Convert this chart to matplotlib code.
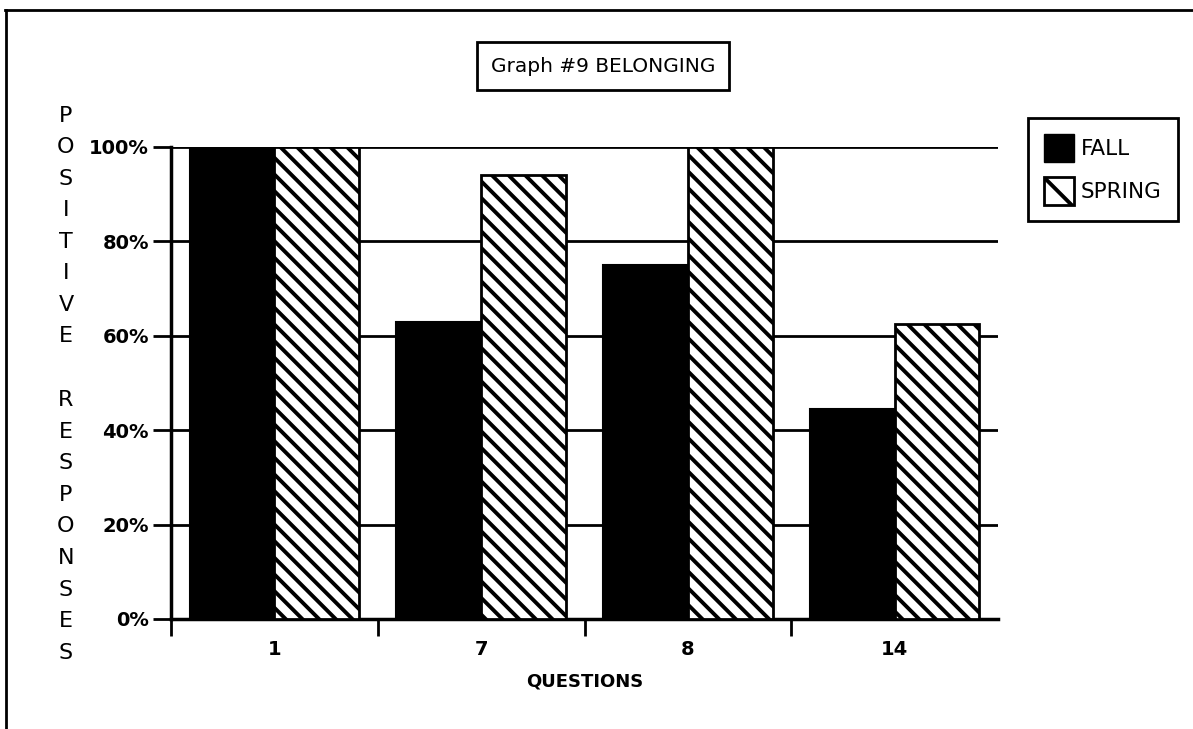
import matplotlib
matplotlib.use("Agg")
import matplotlib.pyplot as plt
import numpy as np
from matplotlib.lines import Line2D
from matplotlib.patches import Patch

questions = ["1", "7", "8", "14"]
fall = [100, 63, 75, 44.5]
spring = [100, 94, 100, 62.5]
y_ticks = [0, 20, 40, 60, 80, 100]
y_tick_labels = ["0%", "20%", "40%", "60%", "80%", "100%"]
y_label_words = ["POSITIVE", "RESPONSES"]

plt.rcParams["hatch.linewidth"] = 2.8
plt.rcParams["font.family"] = "DejaVu Sans"

W, H = 1193, 729
fig = plt.figure(figsize=(W / 100, H / 100), dpi=100)
ax = fig.add_axes([171 / W, 1 - 619 / H, (998 - 171) / W, (619 - 147) / H])

x = np.arange(len(questions))
bw = 0.41
ax.bar(x - bw / 2, fall, bw, color="black", edgecolor="black", linewidth=1.5, zorder=3)
ax.bar(x + bw / 2, spring, bw, color="white", edgecolor="black", linewidth=2,
       hatch="\\\\", zorder=3)

ax.set_xlim(-0.5, len(questions) - 0.5)
ax.set_ylim(0, 100)

ax.set_yticks(y_ticks)
ax.set_yticklabels(y_tick_labels, fontsize=14, fontweight="bold")
ax.yaxis.grid(True, color="black", linewidth=2, zorder=0)
ax.set_axisbelow(True)

ax.set_xticks(x)
ax.set_xticklabels(questions, fontsize=14, fontweight="bold")
ax.tick_params(axis="x", which="major", length=0, pad=15)
ax.set_xticks(np.arange(-0.5, len(questions) - 1, 1), minor=True)
ax.tick_params(axis="x", which="minor", direction="out", length=12, width=2)
ax.tick_params(axis="y", direction="out", length=13, width=2, pad=3)

for s in ["top", "right"]:
    ax.spines[s].set_visible(False)
for s in ["left", "bottom"]:
    ax.spines[s].set_linewidth(2.5)

ax.set_xlabel("QUESTIONS", fontsize=13, fontweight="bold", labelpad=10)

# vertical stacked y label, one letter per line
word_spans = [(116, 336), (400, 653)]
for word, (y0, y1) in zip(y_label_words, word_spans):
    for ch, yy in zip(word, np.linspace(y0, y1, len(word))):
        fig.text(66 / W, 1 - yy / H, ch, fontsize=16, ha="center", va="center")

# title box
fig.text(603 / W, 1 - 66 / H, "Graph #9 BELONGING", fontsize=14.5, ha="center", va="center",
         bbox=dict(boxstyle="square,pad=0.7", facecolor="white", edgecolor="black", linewidth=2))

# legend
handles = [Patch(facecolor="black", edgecolor="black"),
           Patch(facecolor="white", edgecolor="black", hatch="\\", linewidth=2)]
leg = fig.legend(handles, ["FALL", "SPRING"], loc="upper left",
                 bbox_to_anchor=(1028 / W, 1 - 118 / H), fancybox=False,
                 edgecolor="black", fontsize=15.5, handlelength=1.4, handleheight=1.6,
                 handletextpad=0.3, borderpad=0.75, labelspacing=0.7, borderaxespad=0)
leg.get_frame().set_linewidth(2)
leg.get_frame().set_alpha(1)

# page border
fig.add_artist(Line2D([5 / W, 1], [1 - 10 / H, 1 - 10 / H], color="black", linewidth=2))
fig.add_artist(Line2D([6 / W, 6 / W], [0, 1 - 10 / H], color="black", linewidth=2))

fig.savefig("out.png", dpi=100)
